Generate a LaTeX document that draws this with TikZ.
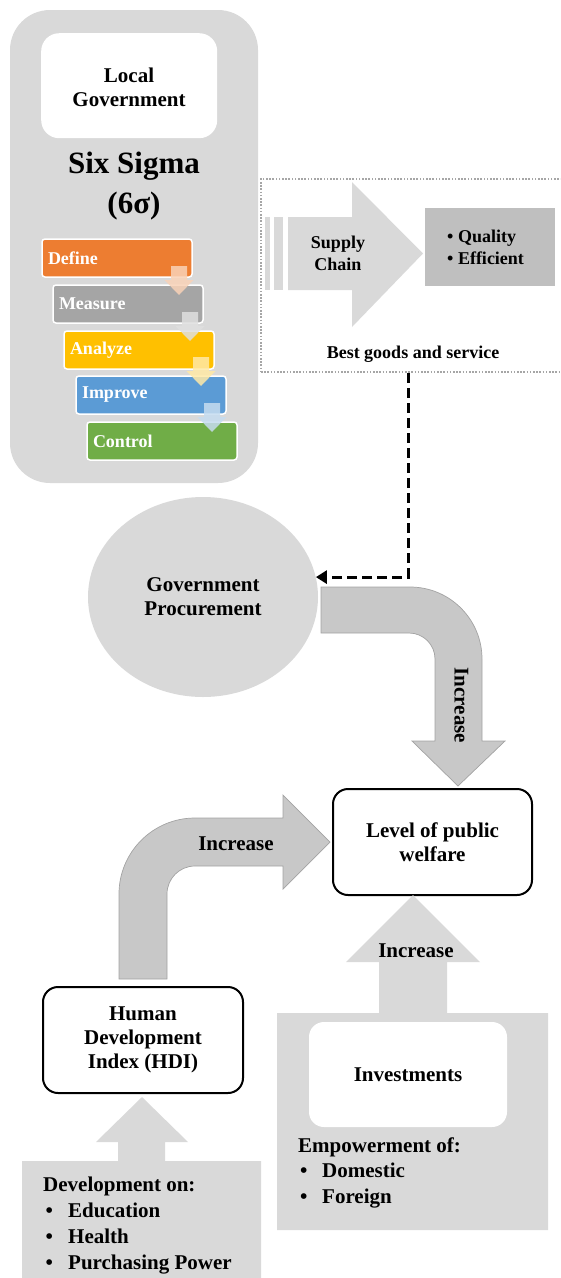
\documentclass[tikz,border=0pt]{standalone}
\usepackage{fontspec}
\setmainfont{Liberation Serif}
\usetikzlibrary{shapes.geometric,arrows.meta}
\definecolor{lg}{HTML}{D9D9D9}
\definecolor{qg}{HTML}{BFBFBF}
\definecolor{bentfill}{HTML}{C8C8C8}
\definecolor{bentdraw}{HTML}{A3A3A3}
\definecolor{dotg}{HTML}{A6A6A6}
\definecolor{sorange}{HTML}{ED7D31}
\definecolor{sgray}{HTML}{A5A5A5}
\definecolor{syellow}{HTML}{FFC000}
\definecolor{sblue}{HTML}{5B9BD5}
\definecolor{sgreen}{HTML}{70AD47}
\begin{document}
\begin{tikzpicture}[x=1pt,y=-1pt,
  big/.style={font=\fontsize{21}{24}\selectfont\bfseries},
  mid/.style={font=\fontsize{18}{22}\selectfont\bfseries},
  txt/.style={big, align=center, inner sep=0pt},
  stepbox/.style={anchor=north west, minimum width=150pt, minimum height=38pt,
    text width=138pt, align=left, inner xsep=6pt, inner ysep=0pt, outer sep=0pt,
    rounded corners=3pt, draw=white, line width=1.5pt, text=white,
    font=\fontsize{18}{21}\selectfont\bfseries},
  wbox/.style={txt, draw=black, line width=2pt, fill=white, rounded corners=15pt},
  bent/.style={fill=bentfill, draw=bentdraw, line width=0.7pt},
  dasharr/.style={line width=3pt, dash pattern=on 10pt off 5pt,
    -{Triangle[length=11pt,width=13pt]}},
  listline/.style={big, anchor=base west, inner sep=0pt}
]
\useasboundingbox (0,0) rectangle (560,1278);
\clip (0,0) rectangle (560,1278);

% ---------- Local government / Six Sigma panel ----------
\node[fill=lg, rounded corners=40pt, minimum width=248pt, minimum height=473pt,
  anchor=north west, inner sep=0pt, outer sep=0pt] (panel) at (10,10) {};
\node[txt, fill=white, rounded corners=18pt, minimum width=176pt, minimum height=105pt,
  anchor=north west] (lgov) at (41,33) {};
\node[txt] (lgovtxt) at (129,87) {Local\\Government};
\node[align=center, inner sep=0pt, font=\fontsize{31}{40}\selectfont\bfseries]
  (sixsigma) at (134,186) {Six Sigma\\(6σ)};

\node[stepbox, fill=sorange] (define) at (42,239) {Define};
\node[stepbox, fill=sgray] (measure) at (53,285) {Measure};
\node[stepbox, fill=syellow] (analyze) at (64,331) {Analyze};
\node[stepbox, fill=sblue] (improve) at (76,376) {Improve};
\node[stepbox, fill=sgreen] (control) at (87,422) {Control};

\foreach \cx/\ty/\col in {179/266/sorange,190/312/sgray,201/357/syellow,212/403/sblue}{
  \fill[\col!35!white, opacity=0.85] (\cx-8,\ty) -- (\cx+8,\ty) -- (\cx+8,\ty+14)
    -- (\cx+14.5,\ty+14) -- (\cx,\ty+29) -- (\cx-14.5,\ty+14) -- (\cx-8,\ty+14) -- cycle;
}

% ---------- Supply chain frame ----------
\node[draw=dotg, dash pattern=on 1.6pt off 1.6pt, line width=1.6pt, minimum width=310pt,
  minimum height=193pt, anchor=north west, inner sep=0pt, outer sep=0pt] (scframe) at (261,179) {};
\fill[lg] (265,217) rectangle (270,290);
\fill[lg] (274,217) rectangle (283,290);
\fill[lg] (288,217) -- (352,217) -- (352,182) -- (423,253.5) -- (352,327) -- (352,290) -- (288,290) -- cycle;
\node[mid, align=center, inner sep=0pt] (supply) at (338,253) {Supply\\Chain};
\node[mid, fill=qg, anchor=north west, minimum width=130pt, minimum height=78pt,
  text width=86pt, inner xsep=22pt, inner ysep=0pt, outer sep=0pt, align=left] (qual) at (425,208)
  {\makebox[11pt][l]{•}Quality\\\makebox[11pt][l]{•}Efficient};
\node[mid, anchor=base, inner sep=0pt] (bgs) at (413,358) {Best goods and service};

% ---------- Government procurement ----------
\node[txt, ellipse, fill=lg, minimum width=230pt, minimum height=200pt] (gp) at (203,597)
  {Government\\Procurement};
\coordinate (dtop) at (408,373);
\draw[dasharr] (dtop) |- (gp.10);

% bent arrow: procurement -> welfare
\path[bent] (321,587) -- (410,587) .. controls (449.8,587) and (482,619.2) .. (482,659)
  -- (482,741) -- (505,741) -- (458,786) -- (412,741) -- (435,741) -- (435,659)
  .. controls (435,644.6) and (423.4,633) .. (409,633) -- (321,633) -- cycle;
\node[big, rotate=-90, inner sep=0pt] (inc1) at (461.5,705.5) {Increase};

% ---------- Level of public welfare ----------
\node[wbox, minimum width=199pt, minimum height=106pt] (lvl) at (432.5,842) {Level of public\\welfare};

% bent arrow: HDI -> welfare
\path[bent] (119,979) -- (119,894) .. controls (119,852) and (153,818) .. (195,818)
  -- (283,818) -- (283,795) -- (330,842) -- (283,889) -- (283,866) -- (195,866)
  .. controls (179.5,866) and (167,878.5) .. (167,894) -- (167,979) -- cycle;
\node[big, inner sep=0pt] (inc2) at (236,844) {Increase};

% ---------- HDI ----------
\node[wbox, minimum width=200pt, minimum height=106pt] (hdi) at (143,1040) {Human\\Development\\Index (HDI)};

\fill[lg] (142,1097) -- (188,1142) -- (165,1142) -- (165,1161) -- (261,1161) -- (261,1300)
  -- (22,1300) -- (22,1161) -- (118,1161) -- (118,1142) -- (96,1142) -- cycle;
\node[listline] (dev0) at (43,1191) {Development on:};
\node[listline] (dev1) at (45.5,1217) {\makebox[22.5pt][l]{•}Education};
\node[listline] (dev2) at (45.5,1243) {\makebox[22.5pt][l]{•}Health};
\node[listline] (dev3) at (45.5,1269) {\makebox[22.5pt][l]{•}Purchasing Power};

% ---------- Investments ----------
\fill[lg] (413,895) -- (480,962) -- (447,962) -- (447,1013) -- (548,1013) -- (548,1230)
  -- (277,1230) -- (277,1013) -- (379,1013) -- (379,962) -- (346,962) -- cycle;
\node[big, inner sep=0pt] (inc3) at (416,951) {Increase};
\node[txt, fill=white, rounded corners=15pt, minimum width=198pt, minimum height=105pt] (inv) at (408,1074.5) {Investments};
\node[listline] (emp0) at (298,1152) {Empowerment of:};
\node[listline] (emp1) at (300,1177) {\makebox[22pt][l]{•}Domestic};
\node[listline] (emp2) at (300,1203) {\makebox[22pt][l]{•}Foreign};
\end{tikzpicture}
\end{document}
